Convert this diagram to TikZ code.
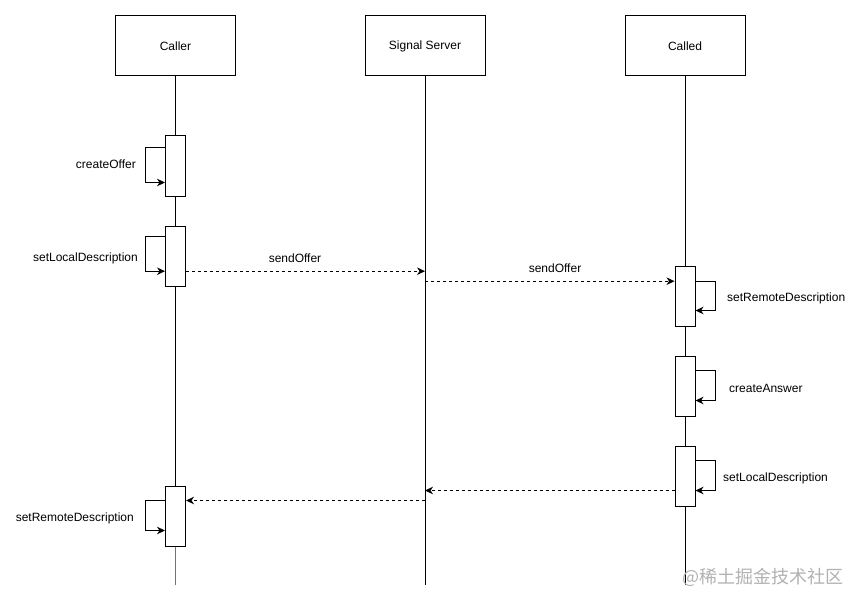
\documentclass[tikz,border=0pt]{standalone}
\usepackage{fontspec}
\setmainfont{Liberation Sans}
\newfontfamily\cjk{Noto Sans CJK SC}
\usetikzlibrary{arrows.meta,calc}
\tikzset{
  actor/.style={draw, line width=1pt, minimum width=120pt, minimum height=60pt, inner sep=0pt, font=\fontsize{12}{14}\selectfont},
  actbox/.style={draw, fill=white, line width=1pt, minimum width=20pt, minimum height=60pt, inner sep=0pt},
  life/.style={line width=1pt},
  selfloop/.style={line width=1pt, -{Stealth[length=8pt,width=7.5pt,inset=2.5pt]}},
  msg/.style={line width=1pt, dash pattern=on 3pt off 3pt, -{Stealth[length=8pt,width=7.5pt,inset=2.5pt]}},
  lbl/.style={inner sep=0pt, font=\fontsize{12}{14}\selectfont}
}
\begin{document}
\begin{tikzpicture}[x=1pt,y=-1pt]
\useasboundingbox[fill=white] (0,0) rectangle (861,604);
% actors
\node[actor] (caller) at (175.5,46) {\raisebox{-1pt}{Caller}};
\node[actor] (signal) at (425,46) {\raisebox{-1pt}{Signal Server}};
\node[actor] (called) at (685,46) {\raisebox{-1pt}{Called}};
\coordinate (callerEnd) at (175.5,585);
\coordinate (signalEnd) at (425,585);
\coordinate (calledEnd) at (685,585);
% lifelines
\draw[life] (caller.south) -- (callerEnd);
\draw[life] (signal.south) -- (signalEnd);
\draw[life] (called.south) -- (calledEnd);
% activation boxes
\node[actbox] (a1) at (175.5,166) {};
\node[actbox] (a2) at (175.5,256) {};
\node[actbox] (a3) at (175.5,516.5) {};
\node[actbox] (b1) at (685,296) {};
\node[actbox] (b2) at (685,386) {};
\node[actbox] (b3) at (685,476) {};
\draw[life, draw=black!55] (a3.south) -- (callerEnd);
% self loops
\draw[selfloop] ($(a1.north west)+(0,12)$) -- ++(-20,0) |- ($(a1.north west)+(0,47)$);
\draw[selfloop] ($(a2.north west)+(0,10.7)$) -- ++(-20,0) |- ($(a2.north west)+(0,45.7)$);
\draw[selfloop] ($(a3.north west)+(0,14.5)$) -- ++(-20,0) |- ($(a3.north west)+(0,44.5)$);
\draw[selfloop] ($(b1.north east)+(0,15.7)$) -- ++(20,0) |- ($(b1.north east)+(0,45)$);
\draw[selfloop] ($(b2.north east)+(0,15)$) -- ++(20,0) |- ($(b2.north east)+(0,45)$);
\draw[selfloop] ($(b3.north east)+(0,15)$) -- ++(20,0) |- ($(b3.north east)+(0,45)$);
% messages
\coordinate (m1) at ($(a2.north east)+(0,45.7)$);
\draw[msg] (m1) -- (m1 -| signal.south);
\coordinate (m2) at ($(b1.north west)+(0,15.7)$);
\draw[msg] (m2 -| signal.south) -- (m2);
\coordinate (m3) at ($(b3.north west)+(0,45)$);
\draw[msg] (m3) -- (m3 -| signal.south);
\coordinate (m4) at ($(a3.north east)+(0,14.5)$);
\draw[msg] (m4 -| signal.south) -- (m4);
% labels
\node[lbl, anchor=east] (l1) at (136,164) {createOffer};
\node[lbl, anchor=east] (l2) at (138,258) {setLocalDescription};
\node[lbl] (l3) at (295,258) {sendOffer};
\node[lbl] (l4) at (555,268) {sendOffer};
\node[lbl, anchor=west] (l5) at (727,298) {setRemoteDescription};
\node[lbl, anchor=west] (l6) at (729,388) {createAnswer};
\node[lbl, anchor=west] (l7) at (723,478) {setLocalDescription};
\node[lbl, anchor=east] (l8) at (134,518) {setRemoteDescription};
% watermark
\node[inner sep=0pt, anchor=west, text=black!30, font=\cjk\fontsize{18}{20}\selectfont] (wm) at (682,577) {@稀土掘金技术社区};
\end{tikzpicture}
\end{document}
